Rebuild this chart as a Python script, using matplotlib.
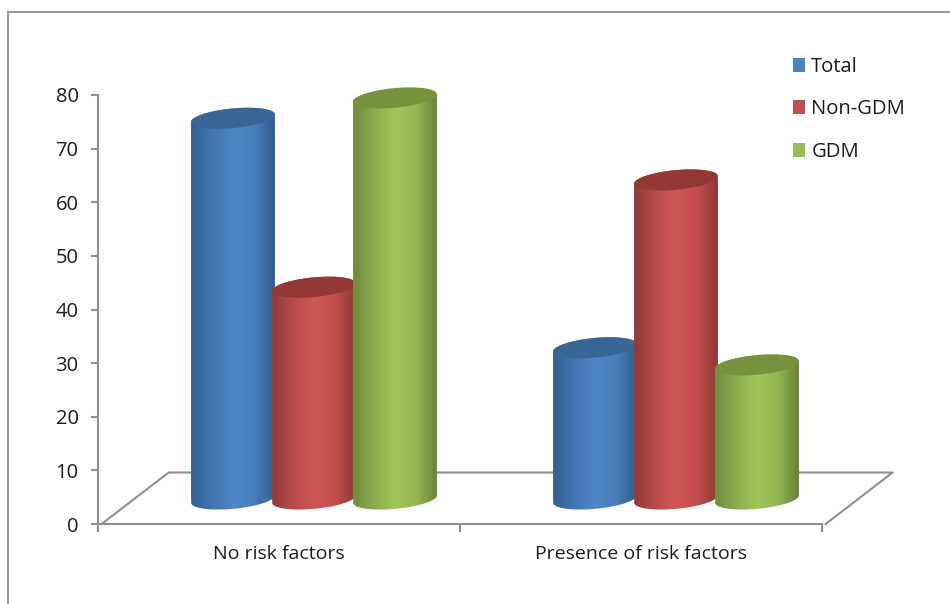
import numpy as np
import matplotlib
matplotlib.use("Agg")
import matplotlib.pyplot as plt
from matplotlib.colors import LinearSegmentedColormap
from matplotlib.lines import Line2D
from matplotlib.patches import PathPatch, Patch, Polygon
from matplotlib.path import Path

categories = ["No risk factors", "Presence of risk factors"]
series_names = ["Total", "Non-GDM", "GDM"]
total = [71.0, 28.2]
non_gdm = [39.5, 59.5]
gdm = [74.8, 25.0]
y_ticks = [0, 10, 20, 30, 40, 50, 60, 70, 80]

plt.rcParams["font.family"] = ["Open Sans", "DejaVu Sans"]
W, H = 950, 604
fig = plt.figure(figsize=(W / 100, H / 100), dpi=100, facecolor="white")
L, R, T, B = 98, 822, 95, 524
ax = fig.add_axes([L / W, (H - B) / H, (R - L) / W, (B - T) / H])
ax.set_xlim(0, 2)
ax.set_ylim(0, 80)
ppx = (R - L) / 2
ppy = (B - T) / 80

GRAY = "#8f8f8f"
TXT = "#1c1c1c"
for s in ("top", "right"):
    ax.spines[s].set_visible(False)
for s in ("left", "bottom"):
    ax.spines[s].set_color(GRAY)
    ax.spines[s].set_linewidth(1.5)
ax.set_facecolor("none")

ax.set_yticks(y_ticks)
ax.set_xticks([0, 1, 2])
ax.set_xticklabels([])
ax.set_xticks([0.5, 1.5], minor=True)
ax.set_xticklabels(categories, minor=True)
ax.tick_params(axis="y", length=5, width=1.5, color=GRAY, labelsize=14.5,
               labelcolor=TXT, pad=9)
ax.tick_params(axis="x", which="major", length=6, width=1.5, color=GRAY)
ax.tick_params(axis="x", which="minor", length=0, labelsize=14,
               labelcolor=TXT, pad=15)

# 3-D floor outline
floor_back = 9.6
depth = 67 / ppx
kw = dict(color=GRAY, lw=1.5, clip_on=False, zorder=1)
ax.plot([0.01, depth + 0.01, 2 + depth + 0.01, 2.01],
        [0, floor_back, floor_back, 0], **kw)

# cylinders
base = 4.66
a, b = 42.0, 9.8
theta = np.radians(5.4)
bar_w = 81 / ppx
group_shift = 35 / ppx
offsets = [-bar_w, 0, bar_w]
ramps = [
    (["#345f90", "#4273ad", "#4f86c8", "#4a7fbc", "#325d8d"], "#3a6695", "#4f81bd"),
    (["#8f3a38", "#b34a48", "#cf5654", "#c34e4c", "#8e3937"], "#943836", "#c0504d"),
    (["#6f8a3c", "#89a94c", "#a0c65a", "#93b752", "#67803a"], "#76923c", "#9bbb59"),
]
stops = [0, 0.22, 0.5, 0.75, 1]
grad = np.linspace(0, 1, 256).reshape(1, -1)


def ell(cx, cy, t):
    dx = a * np.cos(t) * np.cos(theta) - b * np.sin(t) * np.sin(theta)
    dy = a * np.cos(t) * np.sin(theta) + b * np.sin(t) * np.cos(theta)
    return np.column_stack([cx + dx / ppx, cy + dy / ppy])


z = 3
all_vals = [total, non_gdm, gdm]
for gi in [0, 1]:
    for si, vals in enumerate(all_vals):
        cols, cap_col, base_col = ramps[si]
        cx = gi + 0.5 + group_shift + offsets[si]
        top = base + vals[gi]
        rect = ax.bar(cx, vals[gi], width=2 * a / ppx, bottom=base,
                      color=base_col, zorder=z)[0]
        verts = np.vstack([
            ell(cx, top, np.linspace(0, np.pi, 40)),
            ell(cx, base, np.linspace(np.pi, 2 * np.pi, 60)),
            ell(cx, top, np.array([0.0])),
        ])
        body = PathPatch(Path(verts), transform=ax.transData, fc="none", ec="none")
        ax.add_patch(body)
        rect.set_clip_path(body)
        cmap = LinearSegmentedColormap.from_list("c", list(zip(stops, cols)))
        im = ax.imshow(grad, cmap=cmap, aspect="auto", interpolation="bilinear",
                       extent=(cx - a / ppx, cx + a / ppx, 0, top + 3), zorder=z + 0.1)
        im.set_clip_path(body)
        cap = Polygon(ell(cx, top, np.linspace(0, 2 * np.pi, 100)), closed=True,
                      fc=cap_col, ec="none", clip_on=False, zorder=z + 0.2)
        ax.add_patch(cap)
        z += 1
ax.set_xlim(0, 2)
ax.set_ylim(0, 80)

# frame of the picture
for xs, ys in (([8, 8], [604, 12]), ([8, 950], [12, 12])):
    fig.add_artist(Line2D([x / W for x in xs], [1 - y / H for y in ys],
                          color="#9a9a9a", lw=1.5))

handles = [Patch(fc=r[2], ec="none") for r in ramps]
fig.legend(handles, series_names, loc="upper left",
           bbox_to_anchor=(787 / W, 1 - 51 / H), frameon=False, fontsize=14.6,
           labelcolor=TXT, handlelength=0.6, handleheight=0.7, handletextpad=0.3,
           labelspacing=1.1, borderpad=0.3, borderaxespad=0)

fig.savefig("out.png", dpi=100, facecolor="white")
